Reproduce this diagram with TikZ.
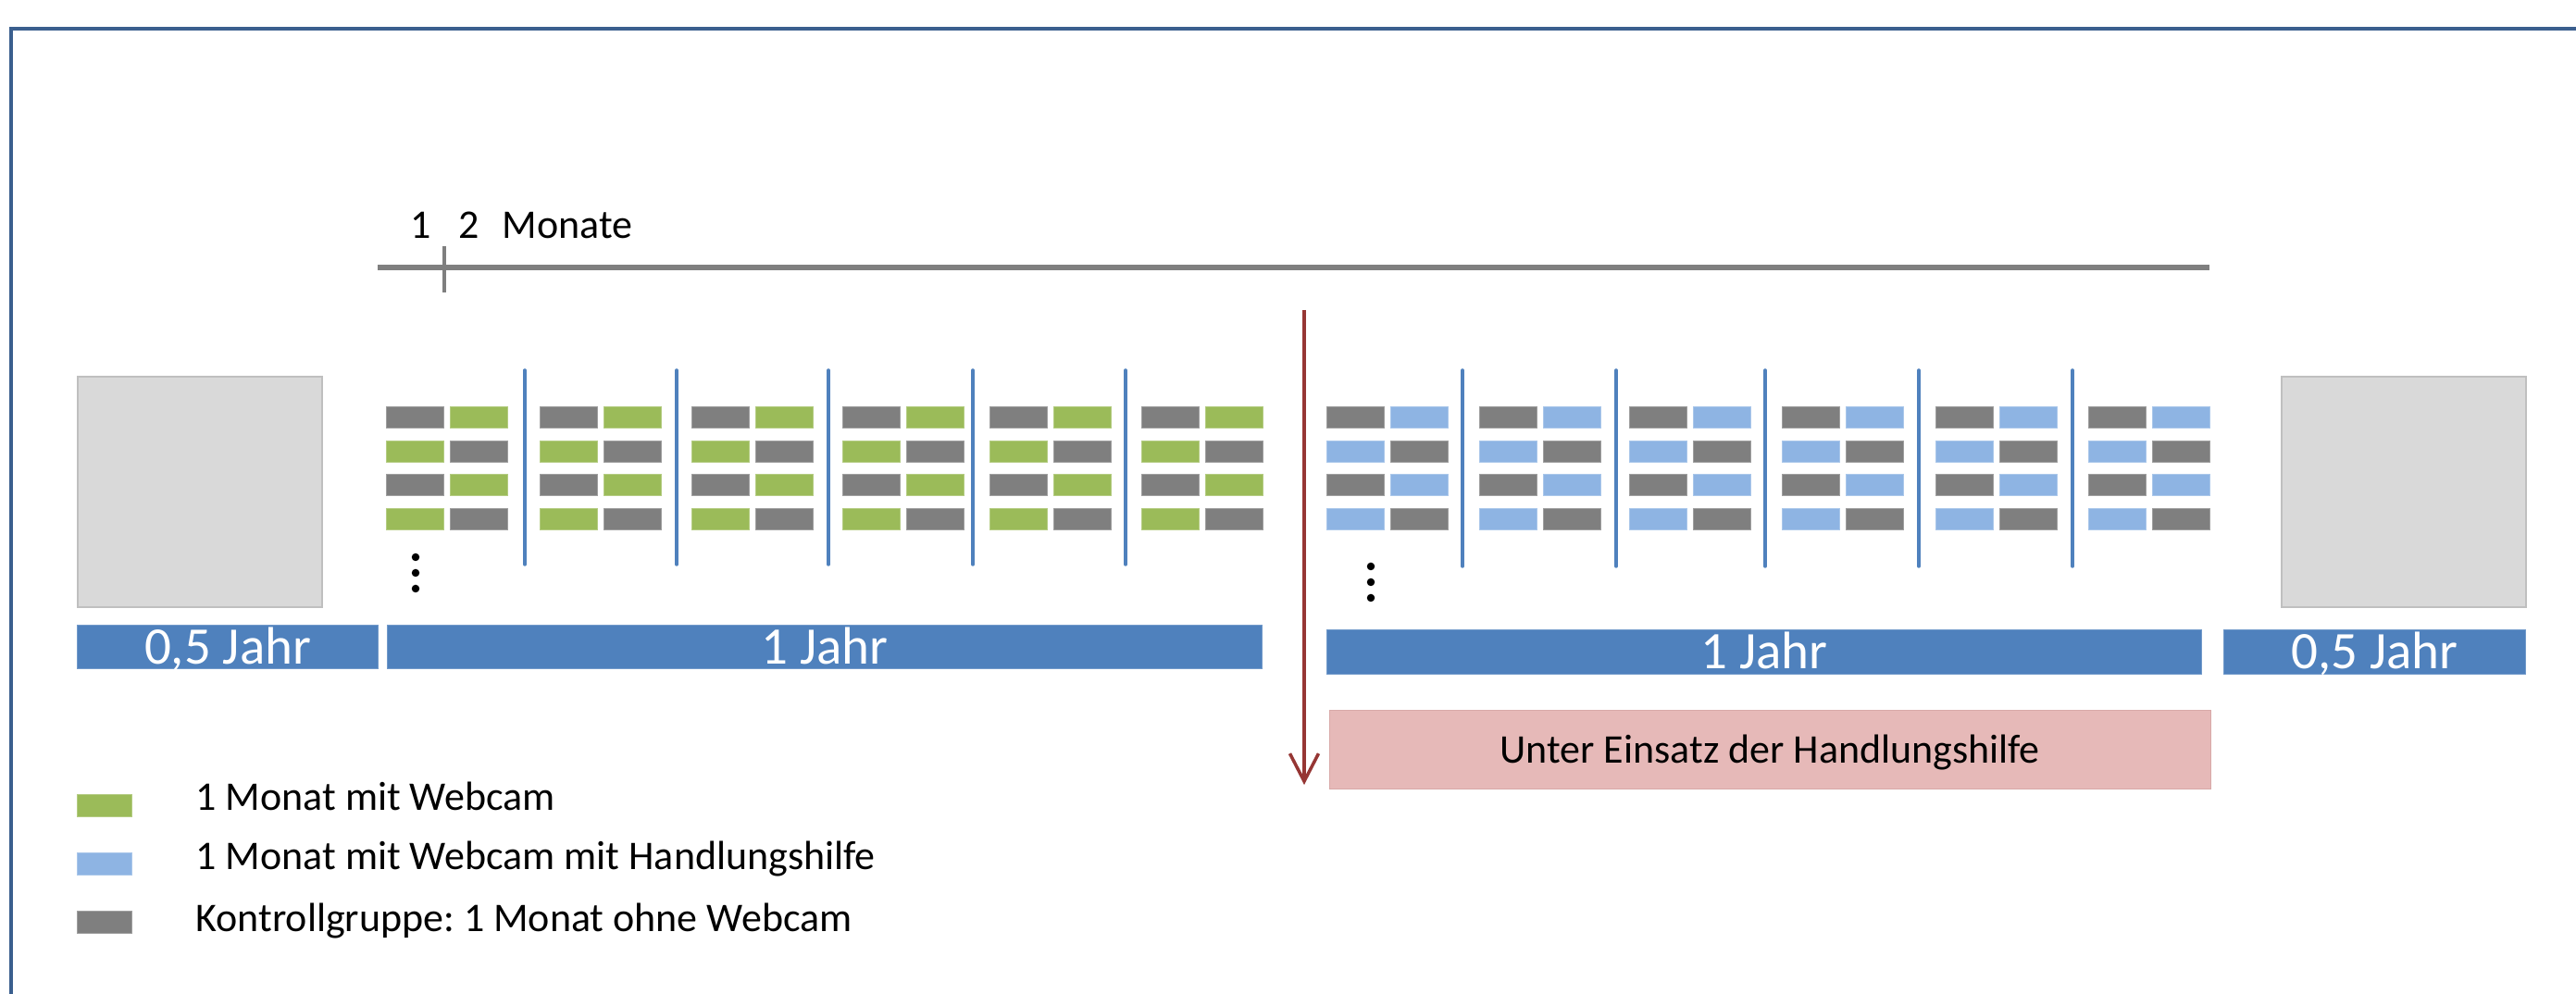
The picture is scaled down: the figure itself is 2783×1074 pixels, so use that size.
\documentclass[tikz,border=0pt]{standalone}
\usepackage{fontspec}
\setmainfont{Carlito}
\usetikzlibrary{arrows.meta}
\definecolor{cellgray}{HTML}{7F7F7F}
\definecolor{cellgreen}{HTML}{9BBB59}
\definecolor{cellblue}{HTML}{8EB4E3}
\definecolor{barblue}{HTML}{4F81BD}
\definecolor{boxgray}{HTML}{D9D9D9}
\definecolor{boxgrayline}{HTML}{BFBFBF}
\definecolor{pinkfill}{HTML}{E6B9B8}
\definecolor{pinkline}{HTML}{D8A9A8}
\definecolor{arrowred}{HTML}{963634}
\definecolor{framecol}{HTML}{3B5F8E}
\begin{document}
\frenchspacing
\begin{tikzpicture}[x=0.01cm,y=-0.01cm,
  framestyle/.style={draw=framecol,line width=0.4mm},
  cell/.style={rectangle,anchor=north west,minimum width=6.2mm,minimum height=2.3mm,inner sep=0pt,line width=0.25pt},
  divider/.style={draw=barblue,line width=0.35mm,line cap=round},
  phasebox/.style={rectangle,anchor=north west,fill=boxgray,draw=boxgrayline,line width=0.5pt,minimum width=26.4mm,minimum height=24.9mm,inner sep=0pt},
  barbox/.style={rectangle,anchor=north west,fill=barblue,draw=barblue!80!white,line width=0.3pt,text=white,inner sep=0pt,
     font=\fontsize{16.2}{18}\selectfont,text height=10.4pt,text depth=0pt},
  lbl/.style={inner sep=0pt,font=\fontsize{12.5}{15}\selectfont},
  dotnode/.style={circle,fill=black,inner sep=0pt,minimum size=0.85mm},
  legsq/.style={rectangle,anchor=north west,minimum width=5.9mm,minimum height=2.4mm,inner sep=0pt,line width=0.25pt},
  timeline/.style={draw=cellgray,line width=0.55mm},
  redline/.style={draw=arrowred,line width=0.35mm,-{Straight Barb[length=3mm,width=3.1mm,line width=0.35mm]}}
]
\useasboundingbox (0,0) rectangle (2783,1074);
\fill[white] (0,0) rectangle (2783,1074);

% frame
\coordinate (frBL) at (12,1074);
\coordinate (frTL) at (12,31);
\coordinate (frTR) at (2783,31);
\draw[framestyle] (frBL) -- (frTL) -- (frTR);

% timeline
\coordinate (tlA) at (408,289);
\coordinate (tlB) at (2387,289);
\draw[timeline] (tlA) -- (tlB);
\coordinate (tkA) at (480,266);
\coordinate (tkB) at (480,316);
\draw[draw=cellgray,line width=0.4mm] (tkA) -- (tkB);
\node[lbl,anchor=base] (lblone) at (455,258) {1};
\node[lbl,anchor=base] (lbltwo) at (507,258) {2};
\node[lbl,anchor=base west] (lblmon) at (542,258) {Monate};

% phase boxes
\node[phasebox] (pre) at (83,406) {};
\node[phasebox] (post) at (2464,406) {};

% bars
\node[barbox,minimum width=32.5mm,minimum height=4.7mm] (barpre) at (83,675) {0,5 Jahr};
\node[barbox,minimum width=94.4mm,minimum height=4.7mm] (barone) at (418,675) {1 Jahr};
\node[barbox,minimum width=94.4mm,minimum height=4.8mm] (bartwo) at (1433,680) {1 Jahr};
\node[barbox,minimum width=32.6mm,minimum height=4.8mm] (barpost) at (2402,680) {0,5 Jahr};

% green group
\foreach \bx [count=\b] in {417,583,747,910,1069,1233} {
  \foreach \ry [count=\r] in {439,476,512,549} {
    \ifodd\r \def\ca{cellgray}\def\cb{cellgreen}\else\def\ca{cellgreen}\def\cb{cellgray}\fi
    \node[cell,fill=\ca,draw=\ca!75!white] (g\b-\r-a) at (\bx,\ry) {};
    \node[cell,fill=\cb,draw=\cb!75!white] (g\b-\r-b) at (\bx+69,\ry) {};
  }
}
\foreach \dx [count=\d] in {567,731,895,1051,1216} {
  \coordinate (gdT\d) at (\dx,400);
  \coordinate (gdB\d) at (\dx,610);
  \draw[divider] (gdT\d) -- (gdB\d);
}
\node[dotnode] (gdot1) at (449,602) {};
\node[dotnode] (gdot2) at (449,619) {};
\node[dotnode] (gdot3) at (449,636) {};

% blue group
\foreach \bx [count=\b] in {1433,1598,1760,1925,2091,2256} {
  \foreach \ry [count=\r] in {439,476,512,549} {
    \ifodd\r \def\ca{cellgray}\def\cb{cellblue}\else\def\ca{cellblue}\def\cb{cellgray}\fi
    \node[cell,fill=\ca,draw=\ca!75!white] (h\b-\r-a) at (\bx,\ry) {};
    \node[cell,fill=\cb,draw=\cb!75!white] (h\b-\r-b) at (\bx+69,\ry) {};
  }
}
\foreach \dx [count=\d] in {1580,1746,1907,2073,2239} {
  \coordinate (hdT\d) at (\dx,400);
  \coordinate (hdB\d) at (\dx,612);
  \draw[divider] (hdT\d) -- (hdB\d);
}
\node[dotnode] (hdot1) at (1481,612) {};
\node[dotnode] (hdot2) at (1481,629) {};
\node[dotnode] (hdot3) at (1481,646) {};

% red arrow
\coordinate (redtop) at (1409,335);
\coordinate (redtip) at (1409,848);
\draw[redline] (redtop) -- (redtip);

% pink box
\node[rectangle,anchor=north west,fill=pinkfill,draw=pinkline,line width=0.3pt,minimum width=95.1mm,minimum height=8.5mm,inner sep=0pt,
  font=\fontsize{12.5}{15}\selectfont,text height=8.05pt,text depth=0pt] (hint) at (1436,767) {Unter Einsatz der Handlungshilfe};

% legend
\node[legsq,fill=cellgreen,draw=cellgreen!75!white] (leggreen) at (83,858) {};
\node[legsq,fill=cellblue,draw=cellblue!75!white] (legblue) at (83,921) {};
\node[legsq,fill=cellgray,draw=cellgray!75!white] (leggray) at (83,984) {};
\node[lbl,anchor=base west] (legtxtA) at (211,876) {1 Monat mit Webcam};
\node[lbl,anchor=base west] (legtxtB) at (211,940) {1 Monat mit Webcam mit Handlungshilfe};
\node[lbl,anchor=base west] (legtxtC) at (211,1007) {Kontrollgruppe: 1 Monat ohne Webcam};
\end{tikzpicture}
\end{document}
